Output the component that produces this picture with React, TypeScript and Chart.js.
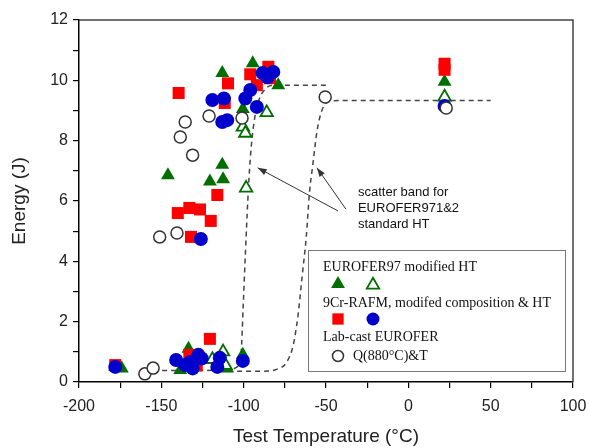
import React, { useEffect, useRef } from 'react';
import { Chart, registerables } from 'chart.js';

Chart.register(...registerables);

// ---- data ----
type P = { x: number; y: number };

const euroferModFilled: P[] = [
  { x: -178, y: 0.5 }, { x: -174, y: 0.45 }, { x: -146, y: 6.85 }, { x: -138.5, y: 0.4 },
  { x: -133.5, y: 1.1 }, { x: -120.5, y: 6.65 }, { x: -113, y: 7.2 }, { x: -112.5, y: 6.72 },
  { x: -113, y: 10.24 }, { x: -110, y: 0.45 }, { x: -100.5, y: 9.05 }, { x: -100.5, y: 0.9 },
  { x: -94.5, y: 10.57 }, { x: -79, y: 9.84 }, { x: 22, y: 9.95 },
];

const euroferModOpen: P[] = [
  { x: -119, y: 0.75 }, { x: -112.5, y: 1.0 }, { x: -111, y: 0.55 }, { x: -100.5, y: 8.45 },
  { x: -99, y: 8.25 }, { x: -98.5, y: 6.43 }, { x: -86, y: 8.93 }, { x: 22, y: 9.45 },
];

const rafmSquares: P[] = [
  { x: -178, y: 0.56 }, { x: -139.5, y: 9.58 }, { x: -140, y: 5.6 }, { x: -133, y: 5.77 },
  { x: -132, y: 4.81 }, { x: -133, y: 0.9 }, { x: -128.5, y: 0.55 }, { x: -126.5, y: 5.72 },
  { x: -120, y: 5.34 }, { x: -120.5, y: 1.43 }, { x: -116, y: 6.2 }, { x: -111.5, y: 9.25 },
  { x: -109.5, y: 9.9 }, { x: -96, y: 10.2 }, { x: -92, y: 9.84 }, { x: -85, y: 10.45 },
  { x: -84, y: 10.07 }, { x: 22, y: 10.55 }, { x: 22, y: 10.35 },
];

const rafmCircles: P[] = [
  { x: -178, y: 0.5 }, { x: -141, y: 0.73 }, { x: -135.5, y: 0.56 }, { x: -132.5, y: 0.66 },
  { x: -131, y: 0.45 }, { x: -127.5, y: 0.9 }, { x: -125.5, y: 0.78 }, { x: -126, y: 4.74 },
  { x: -116, y: 0.5 }, { x: -114.5, y: 0.8 }, { x: -100.5, y: 0.7 }, { x: -119, y: 9.35 },
  { x: -112, y: 9.4 }, { x: -113, y: 8.62 }, { x: -110, y: 8.68 }, { x: -99, y: 9.4 },
  { x: -96, y: 9.68 }, { x: -92, y: 9.12 }, { x: -88.5, y: 10.24 }, { x: -85.5, y: 10.1 },
  { x: -82, y: 10.28 }, { x: 22, y: 9.15 },
];

const labCastQT: P[] = [
  { x: -160, y: 0.27 }, { x: -155, y: 0.46 }, { x: -151, y: 4.81 }, { x: -140.5, y: 4.94 },
  { x: -138.5, y: 8.12 }, { x: -135.5, y: 8.62 }, { x: -131, y: 7.52 }, { x: -121, y: 8.82 },
  { x: -101, y: 8.75 }, { x: -50.5, y: 9.45 }, { x: 23, y: 9.08 },
];

const bandLeft: P[] = [
  { x: -155, y: 0.38 }, { x: -130, y: 0.38 }, { x: -110, y: 0.4 }, { x: -104, y: 0.5 },
  { x: -101.5, y: 1.0 }, { x: -100.3, y: 2.5 }, { x: -99, y: 4.2 }, { x: -97.5, y: 6.0 },
  { x: -96, y: 7.4 }, { x: -94, y: 8.5 }, { x: -91, y: 9.3 }, { x: -87, y: 9.7 },
  { x: -82, y: 9.84 }, { x: -65, y: 9.84 }, { x: -50, y: 9.84 },
];

const bandRight: P[] = [
  { x: -104, y: 0.36 }, { x: -88, y: 0.36 }, { x: -80, y: 0.42 }, { x: -74, y: 0.65 },
  { x: -70, y: 1.2 }, { x: -67, y: 2.2 }, { x: -64.5, y: 3.5 }, { x: -62, y: 4.8 },
  { x: -60, y: 6.3 }, { x: -58, y: 7.2 }, { x: -55.5, y: 8.3 }, { x: -52.5, y: 9.0 },
  { x: -48, y: 9.3 }, { x: -40, y: 9.33 }, { x: 50, y: 9.33 },
];

const xLabelStep = 50;
const yLabelStep = 2;
const annotationLines = ['scatter band for', 'EUROFER971&2', 'standard HT'];
const legendTitles = ['EUROFER97 modified HT', '9Cr-RAFM, modifed composition & HT', 'Lab-cast EUROFER'];
const legendSubLabel = 'Q(880°C)&T';

// ---- styles ----
const GREEN = '#006f00';
const RED = '#ff0000';
const BLUE = '#0000cc';
const GREY = '#333333';
const SANS = '"Liberation Sans", Arial, sans-serif';
const SERIF = '"Liberation Serif", "Times New Roman", serif';

function marker(ctx: CanvasRenderingContext2D, style: string, x: number, y: number, r: number, fill: string, stroke: string, lw: number) {
  ctx.beginPath();
  if (style === 'triangle') {
    ctx.moveTo(x, y - r);
    ctx.lineTo(x + 0.866 * r, y + r / 2);
    ctx.lineTo(x - 0.866 * r, y + r / 2);
    ctx.closePath();
  } else if (style === 'rect') {
    const s = Math.SQRT1_2 * r;
    ctx.rect(x - s, y - s, 2 * s, 2 * s);
  } else {
    ctx.arc(x, y, r, 0, Math.PI * 2);
  }
  ctx.fillStyle = fill;
  ctx.fill();
  if (lw > 0) {
    ctx.lineWidth = lw;
    ctx.strokeStyle = stroke;
    ctx.stroke();
  }
}

const decorPlugin = {
  id: 'decor',
  afterDatasetsDraw(chart: any) {
    const { ctx, chartArea, scales } = chart;
    const xs = scales.x, ys = scales.y;
    ctx.save();
    // frame (top and right)
    ctx.strokeStyle = '#444';
    ctx.lineWidth = 1.5;
    ctx.beginPath();
    ctx.moveTo(chartArea.left, chartArea.top);
    ctx.lineTo(chartArea.right, chartArea.top);
    ctx.lineTo(chartArea.right, chartArea.bottom);
    ctx.stroke();

    // annotation arrows
    const arrow = (tx: number, ty: number, hx: number, hy: number) => {
      const x1 = xs.getPixelForValue(tx), y1 = ys.getPixelForValue(ty);
      const x2 = xs.getPixelForValue(hx), y2 = ys.getPixelForValue(hy);
      ctx.strokeStyle = '#333';
      ctx.fillStyle = '#333';
      ctx.lineWidth = 1;
      ctx.beginPath();
      ctx.moveTo(x1, y1);
      ctx.lineTo(x2, y2);
      ctx.stroke();
      const a = Math.atan2(y2 - y1, x2 - x1);
      const L = 9, W = 3.2;
      ctx.beginPath();
      ctx.moveTo(x2, y2);
      ctx.lineTo(x2 - L * Math.cos(a) + W * Math.sin(a), y2 - L * Math.sin(a) - W * Math.cos(a));
      ctx.lineTo(x2 - L * Math.cos(a) - W * Math.sin(a), y2 - L * Math.sin(a) + W * Math.cos(a));
      ctx.closePath();
      ctx.fill();
    };
    arrow(-42.7, 5.67, -91.5, 7.1);
    arrow(-37.9, 5.73, -55.5, 7.1);

    ctx.fillStyle = '#111';
    ctx.font = `13px ${SANS}`;
    ctx.textAlign = 'left';
    ctx.textBaseline = 'middle';
    const ax = xs.getPixelForValue(-30.6);
    annotationLines.forEach((t, i) => {
      ctx.fillText(t, ax, ys.getPixelForValue(6.3) + i * 16);
    });

    // legend box
    const bx = 308.5, by = 250.5, bw = 257, bh = 121;
    ctx.fillStyle = '#fff';
    ctx.fillRect(bx, by, bw, bh);
    ctx.strokeStyle = '#777';
    ctx.lineWidth = 1;
    ctx.strokeRect(bx, by, bw, bh);
    ctx.fillStyle = '#111';
    ctx.font = `14px ${SERIF}`;
    ctx.textBaseline = 'middle';
    ctx.fillText(legendTitles[0], 323, 267);
    marker(ctx, 'triangle', 338, 284, 8, GREEN, GREEN, 0);
    marker(ctx, 'triangle', 373, 285, 7.2, '#fff', GREEN, 1.8);
    ctx.fillStyle = '#111';
    ctx.fillText(legendTitles[1], 323, 303);
    marker(ctx, 'rect', 338, 319, 8, RED, RED, 0);
    marker(ctx, 'circle', 373, 319, 6.5, BLUE, BLUE, 0);
    ctx.fillStyle = '#111';
    ctx.fillText(legendTitles[2], 323, 337);
    marker(ctx, 'circle', 338, 356, 5.5, '#fff', GREY, 1.5);
    ctx.fillStyle = '#111';
    ctx.fillText(legendSubLabel, 353, 356);
    ctx.restore();
  },
};

export default function App() {
  const ref = useRef<HTMLCanvasElement | null>(null);
  useEffect(() => {
    if (!ref.current) return;
    const chart = new Chart(ref.current, {
      type: 'scatter',
      data: {
        datasets: [
          {
            label: 'band left', data: bandLeft, showLine: true, pointRadius: 0,
            borderColor: '#444', borderWidth: 1.5, borderDash: [5, 4],
            cubicInterpolationMode: 'monotone', order: 10,
          } as any,
          {
            label: 'band right', data: bandRight, showLine: true, pointRadius: 0,
            borderColor: '#444', borderWidth: 1.5, borderDash: [5, 4],
            cubicInterpolationMode: 'monotone', order: 10,
          } as any,
          {
            label: 'EUROFER97 modified HT (filled)', data: euroferModFilled, pointStyle: 'triangle',
            pointRadius: 8, backgroundColor: GREEN, borderColor: GREEN, borderWidth: 0, order: 6,
          },
          {
            label: 'EUROFER97 modified HT (open)', data: euroferModOpen, pointStyle: 'triangle',
            pointRadius: 7.2, backgroundColor: '#fff', borderColor: GREEN, borderWidth: 1.8, order: 5,
          },
          {
            label: '9Cr-RAFM squares', data: rafmSquares, pointStyle: 'rect',
            pointRadius: 8.5, backgroundColor: RED, borderColor: RED, borderWidth: 0, order: 4,
          },
          {
            label: '9Cr-RAFM circles', data: rafmCircles, pointStyle: 'circle',
            pointRadius: 7, backgroundColor: BLUE, borderColor: BLUE, borderWidth: 0, order: 3,
          },
          {
            label: 'Lab-cast EUROFER Q(880°C)&T', data: labCastQT, pointStyle: 'circle',
            pointRadius: 6, backgroundColor: '#fff', borderColor: GREY, borderWidth: 1.5, order: 2,
          },
        ],
      },
      options: {
        animation: false,
        responsive: true,
        maintainAspectRatio: false,
        layout: { padding: { top: 20, right: 16, left: 0, bottom: 0 } },
        plugins: { legend: { display: false }, tooltip: { enabled: false } },
        scales: {
          x: {
            type: 'linear', min: -200, max: 100,
            afterFit: (s: any) => { s.height = 66; s.paddingLeft = 0; s.paddingRight = 0; },
            ticks: {
              stepSize: 25, autoSkip: false, maxRotation: 0, padding: 9,
              color: '#222', font: { family: SANS, size: 16 },
              callback: (v: any) => (Number(v) % xLabelStep === 0 ? String(v) : ''),
            },
            grid: { drawOnChartArea: false, drawTicks: true, tickLength: 6, color: '#000', lineWidth: 1.2 },
            border: { display: true, color: '#000', width: 1.5 },
            title: {
              display: true, text: 'Test Temperature (°C)', color: '#222',
              font: { family: SANS, size: 19 }, padding: { top: 0, bottom: 0 },
            },
          },
          y: {
            type: 'linear', min: 0, max: 12,
            afterFit: (s: any) => { s.width = 79; s.paddingTop = 0; s.paddingBottom = 0; },
            ticks: {
              stepSize: 1, autoSkip: false, padding: 5,
              color: '#222', font: { family: SANS, size: 16 },
              callback: (v: any) => (Number(v) % yLabelStep === 0 ? String(v) : ''),
            },
            grid: { drawOnChartArea: false, drawTicks: true, tickLength: 6, color: '#000', lineWidth: 1.2 },
            border: { display: true, color: '#000', width: 1.5 },
            title: {
              display: true, text: 'Energy (J)', color: '#222',
              font: { family: SANS, size: 19 }, padding: { top: 8, bottom: 0 },
            },
          },
        },
      } as any,
      plugins: [decorPlugin],
    });
    return () => chart.destroy();
  }, []);

  return (
    <div style={{ position: 'absolute', left: 0, top: 0, width: 589, height: 448, background: '#fff' }}>
      <canvas ref={ref} />
    </div>
  );
}
